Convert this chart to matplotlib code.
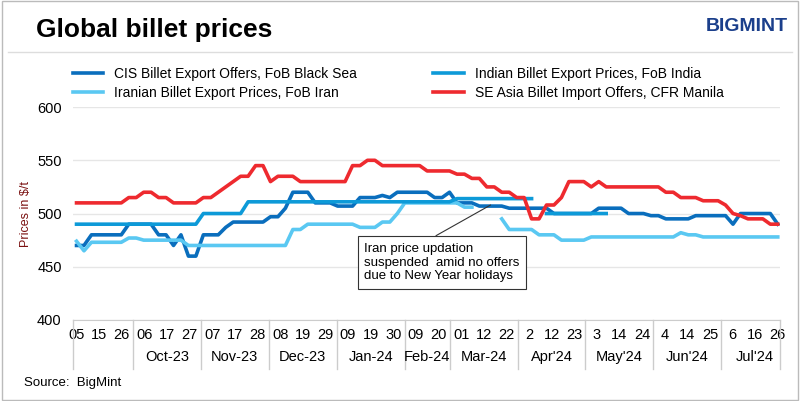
import matplotlib.pyplot as plt
import numpy as np

plt.rcParams["font.family"] = "Liberation Sans"
nan = np.nan

day_labels = ["05", "15", "26", "06", "17", "27", "07", "17", "28", "08", "19", "29",
              "09", "19", "30", "09", "20", "01", "12", "22", "2", "12", "23",
              "3", "14", "24", "4", "14", "25", "6", "16", "26"]
months = ["", "Oct-23", "Nov-23", "Dec-23", "Jan-24", "Feb-24", "Mar-24",
          "Apr'24", "May'24", "Jun'24", "Jul'24"]
month_counts = [3, 3, 3, 3, 3, 2, 3, 3, 3, 3, 3]


def steps(segs, n=95):
    """segments of (start, end, value) -> array of n points"""
    a = np.full(n, nan)
    for s, e, v in segs:
        a[s:e + 1] = v
    return a


cis = steps([(0, 1, 470), (2, 6, 480), (7, 10, 490), (11, 12, 480), (13, 13, 470),
             (14, 14, 480), (15, 16, 460), (17, 19, 480), (20, 20, 487), (21, 25, 492),
             (26, 27, 497), (28, 28, 505), (29, 31, 520), (32, 34, 510), (35, 37, 507),
             (38, 40, 515), (41, 41, 517), (42, 42, 515), (43, 47, 520), (48, 49, 515),
             (50, 50, 520), (51, 53, 510), (54, 57, 507), (58, 63, 505), (64, 69, 500),
             (70, 73, 505), (74, 76, 500), (77, 78, 498), (79, 82, 495), (83, 87, 498),
             (88, 88, 490), (89, 93, 500), (94, 94, 490)])
india = steps([(0, 16, 490), (17, 22, 500), (23, 50, 511), (51, 61, 514), (63, 71, 500)])
iran = steps([(0, 0, 474), (1, 1, 465), (2, 6, 473), (7, 8, 477), (9, 14, 475),
              (15, 28, 470), (29, 30, 485), (31, 37, 490), (38, 40, 487), (41, 42, 492),
              (43, 43, 500), (44, 51, 510), (52, 53, 506), (57, 57, 495), (58, 61, 485),
              (62, 64, 480), (65, 68, 475), (69, 80, 478), (81, 81, 482), (82, 83, 480),
              (84, 94, 478)])
sea = steps([(0, 6, 510), (7, 8, 515), (9, 10, 520), (11, 12, 515), (13, 16, 510),
             (17, 18, 515), (19, 19, 520), (20, 20, 525), (21, 21, 530), (22, 23, 535),
             (24, 25, 545), (26, 26, 530), (27, 29, 535), (30, 36, 530), (37, 38, 545),
             (39, 40, 550), (41, 46, 545), (47, 50, 540), (51, 52, 537), (53, 54, 533),
             (55, 56, 525), (57, 58, 520), (59, 60, 515), (61, 62, 495), (63, 64, 508),
             (65, 65, 515), (66, 68, 530), (69, 69, 525), (70, 70, 530), (71, 78, 525),
             (79, 80, 520), (81, 83, 515), (84, 86, 512), (87, 87, 508), (88, 88, 500),
             (89, 89, 498), (90, 92, 495), (93, 94, 490)])

# ordered so the two-column legend reads row by row like the reference
series = [("CIS Billet Export Offers, FoB Black Sea", cis, "#0a6ebd"),
          ("Iranian Billet Export Prices, FoB Iran", iran, "#5ac8f2"),
          ("Indian Billet Export Prices, FoB India", india, "#0d9ad8"),
          ("SE Asia Billet Import Offers, CFR Manila", sea, "#ee2a2f")]

fig = plt.figure(figsize=(8, 4.01), dpi=100)
ax = fig.add_axes([0.091, 0.202, 0.884, 0.531])
x = np.arange(95)
for name, y, c in series:
    ax.plot(x, y, color=c, lw=2.6, label=name)

ax.set_ylim(400, 600)
ax.set_xlim(-0.5, 94.3)
ax.set_yticks(range(400, 601, 50))
ax.yaxis.grid(True, color="#e6e6e6", lw=1)
ax.set_axisbelow(True)
for s in ["top", "right", "left"]:
    ax.spines[s].set_visible(False)
ax.spines["bottom"].set_color("#cccccc")
ax.tick_params(axis="y", length=0, labelsize=10.5, pad=8)
tick_pos = np.linspace(0, 94, len(day_labels))
ax.set_xticks(tick_pos)
ax.set_xticklabels(day_labels, fontsize=10.5)
ax.tick_params(axis="x", length=0, pad=6)
ax.set_ylabel("Prices in $/t", fontsize=9, color="#7a1010")

# month separators and labels
step = tick_pos[1] - tick_pos[0]
idx = 0
trans = ax.get_xaxis_transform()
bounds = [-0.5]
for m, cnt in zip(months, month_counts):
    start = idx
    idx += cnt
    b = tick_pos[idx - 1] + step / 2 if idx < len(tick_pos) else 94.3
    bounds.append(b)
    if m:
        ax.text((tick_pos[start] + tick_pos[idx - 1]) / 2, -0.175, m, transform=trans,
                ha="center", va="center", fontsize=10.5)
for b in bounds:
    ax.plot([b, b], [0, -0.23], transform=trans, color="#cccccc", lw=1, clip_on=False)

# annotation
ax.annotate("Iran price updation\nsuspended  amid no offers\ndue to New Year holidays",
            xy=(55.5, 508), xytext=(38.6, 454), fontsize=9.5, va="center", ha="left",
            bbox=dict(boxstyle="square,pad=0.5", fc="white", ec="#333333", lw=0.8),
            arrowprops=dict(arrowstyle="-", color="#333333", lw=0.8,
                            shrinkA=0, shrinkB=0, relpos=(0.38, 1.0)))

fig.text(0.045, 0.925, "Global billet prices", fontsize=19, fontweight="bold", va="center")
fig.text(0.985, 0.935, "BIGMINT", fontsize=14, fontweight="bold", color="#1b3f8b",
         ha="right", va="center")
fig.add_artist(plt.Line2D([0.01, 0.99], [0.87, 0.87], color="#dddddd", lw=1))
fig.legend(loc="upper left", bbox_to_anchor=(0.075, 0.865), ncol=2, frameon=False,
           fontsize=10, handlelength=2.2, columnspacing=5.5, labelspacing=0.4)
fig.text(0.03, 0.045, "Source:  BigMint", fontsize=9.5, va="center")
fig.add_artist(plt.Rectangle((0.002, 0.002), 0.996, 0.996, fill=False,
                             ec="#bbbbbb", lw=1, transform=fig.transFigure))
fig.savefig("out.png", dpi=100)
